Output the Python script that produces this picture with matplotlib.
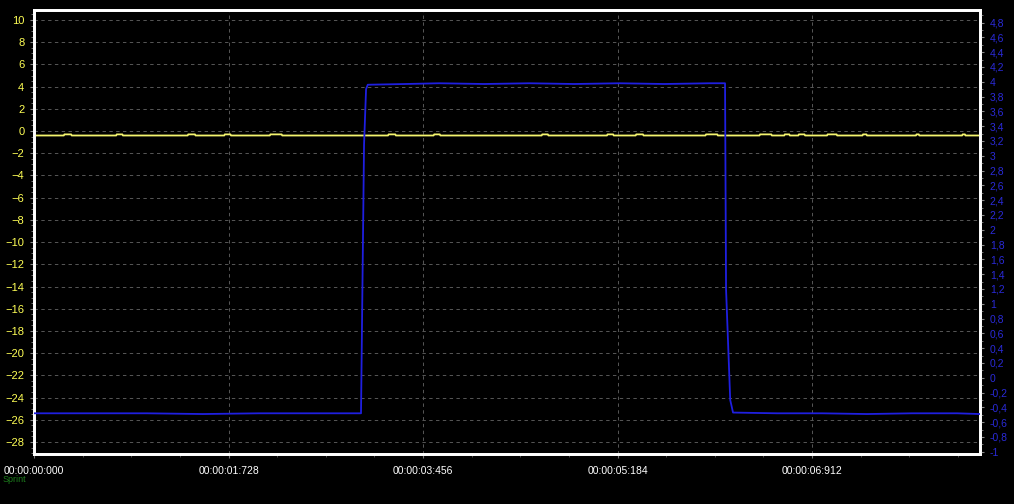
import matplotlib
matplotlib.use("Agg")
import matplotlib.pyplot as plt
from matplotlib.ticker import FixedLocator, MultipleLocator, FuncFormatter

# ---------------- data ----------------
# blue channel (right axis), time in seconds
blue_t = [0.00, 0.50, 1.00, 1.50, 2.00, 2.50, 2.905, 2.932, 2.950, 2.965,
          3.30, 3.60, 4.00, 4.40, 4.80, 5.20, 5.60, 6.00, 6.139, 6.148,
          6.185, 6.210, 6.60, 7.00, 7.40, 7.80, 8.20, 8.404]
blue_v = [-0.48, -0.48, -0.48, -0.49, -0.48, -0.48, -0.48, 3.15, 3.90, 3.96,
          3.97, 3.98, 3.97, 3.98, 3.97, 3.98, 3.97, 3.98, 3.98, 1.20,
          -0.30, -0.47, -0.48, -0.48, -0.49, -0.48, -0.48, -0.49]

# yellow channel (left axis): baseline with small bumps
yellow_base = -0.40
yellow_bump = -0.30
bump_t = [0.30, 0.76, 1.40, 1.72, 2.15, 3.18, 3.58, 4.54, 5.12, 5.38,
          6.02, 6.50, 6.69, 6.82, 7.09, 7.38, 7.85, 8.26]
bump_w = [0.06, 0.05, 0.06, 0.05, 0.10, 0.06, 0.05, 0.05, 0.05, 0.06,
          0.10, 0.10, 0.04, 0.05, 0.08, 0.03, 0.02, 0.02]

x_ticks = [0.0, 1.728, 3.456, 5.184, 6.912]
x_labels = ["00:00:00:000", "00:00:01:728", "00:00:03:456",
            "00:00:05:184", "00:00:06:912"]
left_ticks = list(range(-28, 11, 2))
right_ticks = [round(-1 + 0.2 * i, 1) for i in range(30)]

# ---------------- figure ----------------
plt.rcParams['font.family'] = ['Liberation Sans', 'DejaVu Sans']
fig = plt.figure(figsize=(10.14, 5.04), dpi=100, facecolor='black')
ax = fig.add_axes([34 / 1014, 1 - 454 / 504, (980 - 34) / 1014, 444 / 504])
ax.set_facecolor('black')
ax2 = ax.twinx()

# yellow series
yt, yv = [0.0], [yellow_base]
for c, w in zip(bump_t, bump_w):
    yt += [c - w / 2 - 0.005, c - w / 2, c + w / 2, c + w / 2 + 0.005]
    yv += [yellow_base, yellow_bump, yellow_bump, yellow_base]
yt.append(8.404)
yv.append(yellow_base)
ax.plot(yt, yv, color='#f4f46e', lw=1.3, zorder=3)

ax2.plot(blue_t, blue_v, color='#1f1fe0', lw=1.3, zorder=3)

ax.set_xlim(0, 8.404)
ax.set_ylim(-29.08, 10.9)
ax2.set_ylim(-1.03, 4.97)

# grid
ax.set_yticks(left_ticks)
ax.set_xticks(x_ticks)
ax.set_xticklabels(x_labels)
ax.grid(True, color='#575757', ls=(0, (3.5, 3.5)), lw=0.7)
ax.set_axisbelow(True)

# ticks
ax.tick_params(axis='y', colors='#ffff55', labelsize=8, length=3, width=0.8,
               pad=4)
ax.tick_params(axis='y', which='major', color='#888888')
ax.yaxis.set_minor_locator(MultipleLocator(0.5))
ax.tick_params(axis='y', which='minor', color='#888888', length=2, width=0.6)
ax.tick_params(axis='x', labelcolor='white', color='#777777', labelsize=7.5,
               length=3, width=0.8, pad=6)
ax.xaxis.set_minor_locator(MultipleLocator(0.432))
ax.tick_params(axis='x', which='minor', color='#555555', length=2)

ax2.yaxis.set_major_locator(FixedLocator(right_ticks))
ax2.yaxis.set_major_formatter(FuncFormatter(
    lambda v, p: ('%g' % round(v, 1)).replace('.', ',')))
ax2.yaxis.set_minor_locator(MultipleLocator(0.1))
ax2.tick_params(axis='y', colors='#2a2ad8', labelsize=7.5, length=3,
                width=0.8, pad=4)
ax2.tick_params(axis='y', which='both', color='#888888')
ax2.tick_params(axis='y', which='minor', length=2, width=0.6)

for a in (ax, ax2):
    for s in a.spines.values():
        s.set_color('white')
        s.set_linewidth(2)

fig.text(3 / 1014, 1 - 480 / 504, "Sprint", color='#1f8a1f', fontsize=6.5,
         va='center', ha='left', alpha=0.9)

fig.savefig('out.png', dpi=100, facecolor='black')
